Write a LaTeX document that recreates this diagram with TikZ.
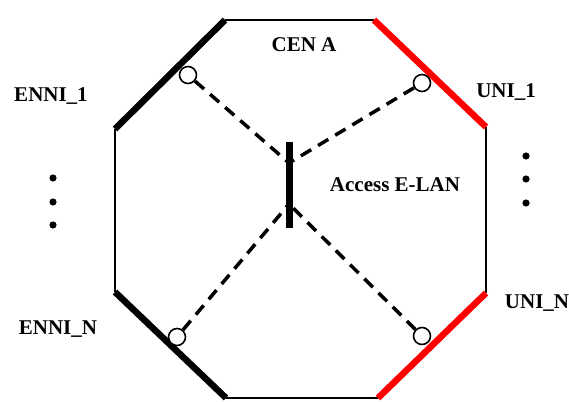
\documentclass[tikz,border=0pt]{standalone}
\usepackage{fontspec}
\setmainfont{Liberation Serif}
\usepackage{tikz}

\begin{document}
\begin{tikzpicture}[x=1pt, y=-1pt,
    thin edge/.style={line width=2pt},
    enni edge/.style={line width=6.5pt, black},
    uni edge/.style={line width=6.5pt, red},
    port/.style={circle, draw, line width=1.6pt, fill=white, inner sep=0pt, minimum size=17pt},
    link/.style={line width=3.5pt, dash pattern=on 12pt off 8pt},
    lbl/.style={font=\fontsize{21}{24}\selectfont\bfseries, anchor=base, inner sep=0pt}]
  \useasboundingbox (0,0) rectangle (569,401);
  % corners of the network
  \coordinate (tl) at (225,20);
  \coordinate (tr) at (374,20);
  \coordinate (ru) at (486,127);
  \coordinate (rd) at (486,293);
  \coordinate (br) at (378,398);
  \coordinate (bl) at (226,398);
  \coordinate (ld) at (115,292);
  \coordinate (lu) at (115,129);
  \draw [thin edge] (tl) -- (tr) (ru) -- (rd) (br) -- (bl) (ld) -- (lu);
  \draw [enni edge] (lu) -- (tl) (bl) -- (ld);
  \draw [uni edge] (tr) -- (ru) (rd) -- (br);
  % access e-lan bar
  \coordinate (bartop) at (289,142);
  \coordinate (barbot) at (289,228);
  \coordinate (jup) at (289,163);
  \coordinate (jdown) at (289,204);
  \node [port] (enni1) at (188,75) {};
  \node [port] (uni1) at (422,83) {};
  \node [port] (ennin) at (177,337) {};
  \node [port] (unin) at (422,336) {};
  \draw [link] (enni1) -- (jup);
  \draw [link] (uni1) -- (jup);
  \draw [link] (ennin) -- (jdown);
  \draw [link] (unin) -- (jdown);
  \draw [line width=7pt] (bartop) -- (barbot);
  \foreach \y in {178,202,225} \fill (53,\y) circle (3.6pt);
  \foreach \y in {156,179,203} \fill (526,\y) circle (3.6pt);
  \node [lbl] (cen) at (304,52) {CEN A};
  \node [lbl] (elan) at (395,191) {Access E-LAN};
  \node [lbl] (lenni1) at (51,101) {ENNI\_1};
  \node [lbl] (lennin) at (58,334) {ENNI\_N};
  \node [lbl] (luni1) at (506,98) {UNI\_1};
  \node [lbl] (lunin) at (537,308) {UNI\_N};
\end{tikzpicture}
\end{document}
